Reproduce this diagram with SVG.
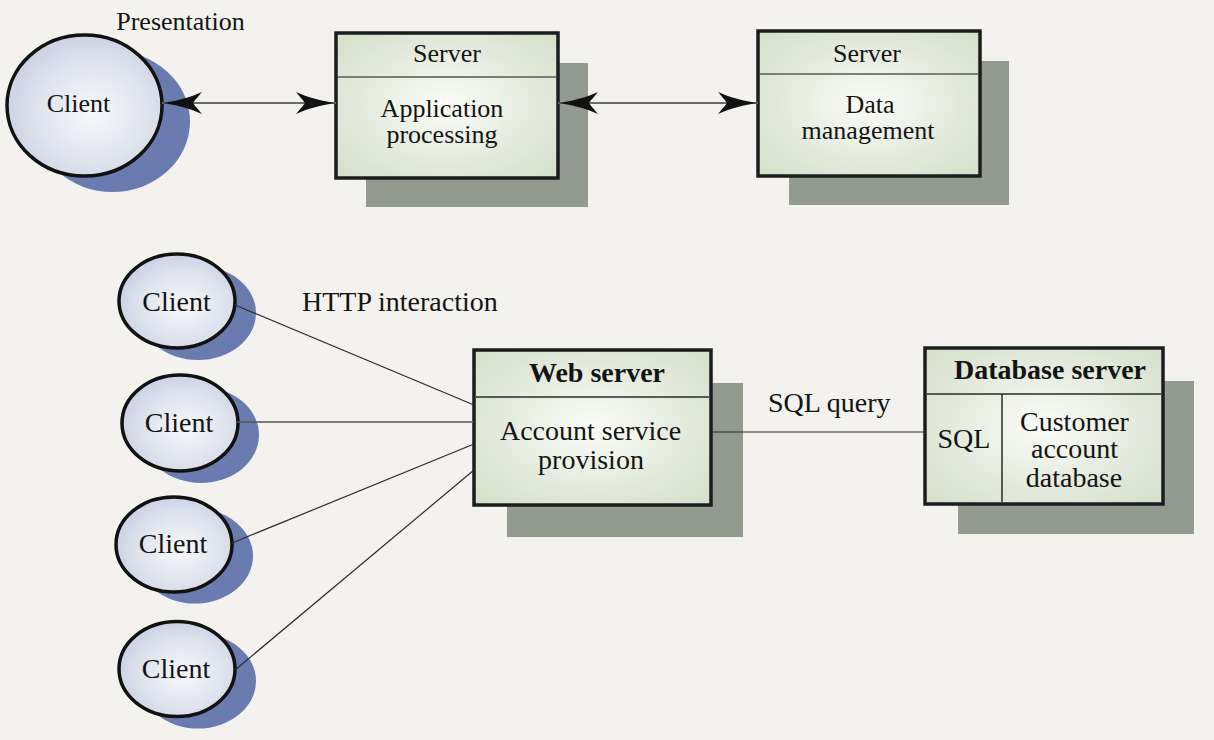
<svg xmlns="http://www.w3.org/2000/svg" width="1214" height="740" viewBox="0 0 1214 740">
<style>
text{font-family:"Liberation Serif","Times New Roman",serif;fill:#141414;}
.t26{font-size:26px;text-anchor:middle;}
.t28{font-size:28px;text-anchor:middle;}
.b28{font-size:28px;font-weight:bold;text-anchor:middle;}
.cl{fill:url(#gC);stroke:#111;stroke-width:3.5;}
.cs{fill:#6a7bb0;}
.bx{fill:url(#gB);stroke:#1c1c1c;stroke-width:3.5;}
.bs{fill:#939b91;}
.dv{stroke:#7a7d78;stroke-width:1.8;fill:none;}
.dvk{stroke:#2a2a2a;stroke-width:1.5;fill:none;}
.arr{stroke:#6b6b6b;stroke-width:1.8;fill:none;marker-start:url(#ah);marker-end:url(#ah);}
.ln{stroke:#2b2b2b;stroke-width:1.2;fill:none;}
</style>
<defs>
<radialGradient id="gC" cx="0.55" cy="0.55" r="0.6">
<stop offset="0" stop-color="#f7f8fb"/>
<stop offset="0.6" stop-color="#dfe3ee"/>
<stop offset="1" stop-color="#c8cfe2"/>
</radialGradient>
<radialGradient id="gB" cx="0.5" cy="0.5" r="0.65">
<stop offset="0" stop-color="#fbfcf8"/>
<stop offset="0.55" stop-color="#e6ecdf"/>
<stop offset="1" stop-color="#d6e1cc"/>
</radialGradient>
<marker id="ah" viewBox="0 0 40 22" refX="40" refY="11" markerWidth="40" markerHeight="22" markerUnits="userSpaceOnUse" orient="auto-start-reverse">
<path d="M40,11 C30,10 10,5 0,0 C4,5 8,9 9,11 C8,13 4,17 0,22 C10,17 30,12 40,11 Z" fill="#111"/>
</marker>
</defs>
<rect width="1214" height="740" fill="#f3f2ee"/>

<g id="client-top">
<ellipse class="cs" cx="112.5" cy="121.5" rx="77.5" ry="70.5"/>
<ellipse class="cl" cx="84.5" cy="105.5" rx="77.5" ry="70.5"/>
<text class="t26" x="78.5" y="112">Client</text>
<text class="t26" x="180.5" y="30">Presentation</text>
</g>

<g id="server-app">
<rect class="bs" x="366" y="63" width="222" height="144"/>
<rect class="bx" x="336" y="33" width="222" height="145"/>
<line class="dv" x1="338" y1="77" x2="556" y2="77"/>
<text class="t26" x="447" y="62">Server</text>
<text class="t26" x="442" y="117">Application</text>
<text class="t26" x="442" y="143">processing</text>
</g>

<g id="server-data">
<rect class="bs" x="789" y="61" width="220" height="144"/>
<rect class="bx" x="758" y="31" width="222" height="145"/>
<line class="dv" x1="760" y1="74" x2="978" y2="74"/>
<text class="t26" x="867" y="62">Server</text>
<text class="t26" x="870" y="113">Data</text>
<text class="t26" x="868" y="139">management</text>
</g>

<g id="client-1">
<ellipse class="cs" cx="198" cy="313" rx="58" ry="47"/>
<ellipse class="cl" cx="177" cy="301" rx="58" ry="47"/>
<text class="t28" x="176.5" y="311">Client</text>
</g>
<g id="client-2">
<ellipse class="cs" cx="201" cy="435" rx="58" ry="48"/>
<ellipse class="cl" cx="180" cy="423" rx="58" ry="48"/>
<text class="t28" x="179" y="432">Client</text>
</g>
<g id="client-3">
<ellipse class="cs" cx="195" cy="556" rx="58" ry="47.5"/>
<ellipse class="cl" cx="174" cy="544.5" rx="58" ry="47.5"/>
<text class="t28" x="173" y="553">Client</text>
</g>
<g id="client-4">
<ellipse class="cs" cx="198" cy="681" rx="58" ry="47.5"/>
<ellipse class="cl" cx="177" cy="669" rx="58" ry="47.5"/>
<text class="t28" x="176" y="678">Client</text>
</g>

<g id="web-server">
<rect class="bs" x="507" y="383" width="236" height="154"/>
<rect class="bx" x="474" y="350" width="237" height="155"/>
<line class="dvk" x1="476" y1="397" x2="709" y2="397"/>
<text class="b28" x="597" y="382">Web server</text>
<text class="t28" x="590.5" y="440">Account service</text>
<text class="t28" x="591" y="469">provision</text>
</g>

<g id="database-server">
<rect class="bs" x="958" y="381" width="236" height="153"/>
<rect class="bx" x="925" y="348" width="238" height="156"/>
<line class="dvk" x1="927" y1="394" x2="1161" y2="394"/>
<line class="dvk" x1="1002" y1="394" x2="1002" y2="502"/>
<text class="b28" x="1050" y="379">Database server</text>
<text class="t28" x="964" y="448">SQL</text>
<text class="t28" x="1074.5" y="431">Customer</text>
<text class="t28" x="1074.5" y="458">account</text>
<text class="t28" x="1074" y="487">database</text>
</g>

<g id="connectors">
<line class="arr" x1="162" y1="103" x2="336" y2="103"/>
<line class="arr" x1="558" y1="103" x2="758" y2="103"/>
<line class="ln" x1="235" y1="305" x2="474" y2="405"/>
<line class="ln" x1="237" y1="422" x2="474" y2="422" style="stroke:#555;stroke-width:1.6"/>
<line class="ln" x1="232" y1="543" x2="474" y2="444"/>
<line class="ln" x1="235" y1="670" x2="474" y2="470"/>
<line class="ln" x1="711" y1="432" x2="925" y2="432"/>
<text x="302" y="311" style="font-size:28px">HTTP interaction</text>
<text x="768" y="412" style="font-size:28px">SQL query</text>
</g>
</svg>
